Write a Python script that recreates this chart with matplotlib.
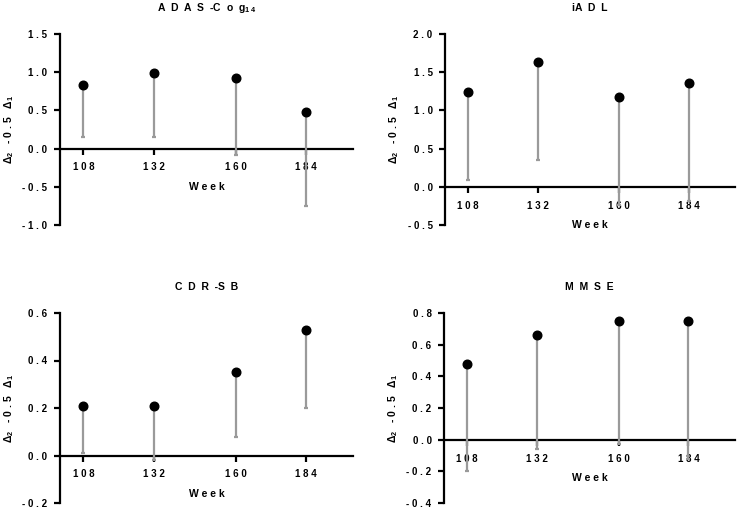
import numpy as np
import matplotlib
matplotlib.use('Agg')
import matplotlib.pyplot as plt
import matplotlib.transforms as mtransforms

#%% Data
weeks = [108, 132, 160, 184]

adas_est = [0.83, 0.99, 0.92, 0.48]
adas_low = [0.15, 0.15, -0.09, -0.75]

iadl_est = [1.24, 1.64, 1.17, 1.36]
iadl_low = [0.09, 0.35, -0.24, -0.18]

cdr_est = [0.21, 0.21, 0.35, 0.53]
cdr_low = [0.01, -0.02, 0.08, 0.20]

mmse_est = [0.48, 0.66, 0.75, 0.75]
mmse_low = [-0.20, -0.06, -0.03, -0.12]

titles = ['A  D  A  S  -C  o  g$_{1\\ 4}$', 'iA  D  L', 'C  D  R  -S  B', 'M  M  S  E']
ylims = [(-1.0, 1.5), (-0.5, 2.0), (-0.2, 0.6), (-0.4, 0.8)]
ysteps = [0.5, 0.5, 0.2, 0.2]

#%% Style
plt.rcParams['font.family'] = ['Liberation Sans', 'DejaVu Sans']
plt.rcParams['font.weight'] = 'bold'
plt.rcParams['mathtext.fontset'] = 'custom'
plt.rcParams['mathtext.rm'] = 'Liberation Sans:bold'
plt.rcParams['mathtext.it'] = 'Liberation Sans:bold'
plt.rcParams['mathtext.bf'] = 'Liberation Sans:bold'

grey = '#9a9a9a'


def spaced(s):
    return ' '.join(s)


fig = plt.figure(figsize=(7.38, 5.09), dpi=100)
W, H = 738, 509
# axes boxes in pixels: (left, top, right, bottom)
boxes = [(60, 34, 353, 225), (445, 34, 735, 225),
         (60, 313, 353, 503), (444, 313, 735, 503)]

series = [(adas_est, adas_low), (iadl_est, iadl_low),
          (cdr_est, cdr_low), (mmse_est, mmse_low)]

for i in range(4):
    l, t, r, b = boxes[i]
    ax = fig.add_axes([l / W, 1 - b / H, (r - l) / W, (b - t) / H])
    est, low = series[i]
    est = np.array(est)
    low = np.array(low)

    # one-sided (lower) error bars
    ax.errorbar(weeks, est, yerr=[est - low, np.zeros(len(est))], fmt='none',
                ecolor=grey, elinewidth=1.6, capsize=1.6, capthick=1.6, zorder=3)
    ax.plot(weeks, est, 'o', color='black', markersize=6.2, zorder=4)

    ax.set_xlim(100, 200)
    ax.set_ylim(*ylims[i])
    ax.spines['top'].set_visible(False)
    ax.spines['right'].set_visible(False)
    ax.spines['bottom'].set_position(('data', 0))
    ax.spines['left'].set_linewidth(1.6)
    ax.spines['bottom'].set_linewidth(1.6)
    ax.spines['bottom'].set_zorder(2)

    ax.set_xticks(weeks)
    ax.set_xticklabels([spaced(str(w)) for w in weeks], fontsize=7, fontweight='bold')
    yt = np.arange(ylims[i][0], ylims[i][1] + 1e-9, ysteps[i])
    ax.set_yticks(yt)
    ax.set_yticklabels([spaced(f'{v:.1f}'.replace('-0.0', '0.0')) for v in yt],
                       fontsize=7, fontweight='bold')
    ax.tick_params(axis='both', direction='out', length=4, width=1.6, color='black')
    ax.tick_params(axis='x', pad=6)
    ax.tick_params(axis='y', pad=5)

    ax.set_title(titles[i], fontsize=7.5, fontweight='bold', pad=16.5)

    ax.set_ylabel('Δ$_2$   - 0 . 5   Δ$_1$', fontsize=7.5, fontweight='bold')
    ax.yaxis.set_label_coords(-44 / (r - l), 0.5)

    trans = mtransforms.blended_transform_factory(ax.transAxes, ax.transData)
    ax.annotate(spaced('Week'), xy=(0.5, 0), xycoords=trans,
                xytext=(0, -27.5), textcoords='offset points',
                ha='center', va='center', fontsize=7.5, fontweight='bold')

plt.savefig('out.png', dpi=100)
